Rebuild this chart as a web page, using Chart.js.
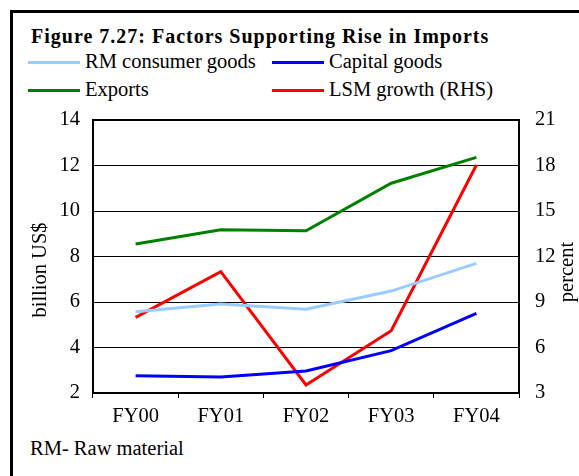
<!DOCTYPE html>
<html>
<head>
<meta charset="utf-8">
<script src="https://cdn.jsdelivr.net/npm/chart.js@4"></script>
<style>
  body { margin: 0; background: #fff; }
  #wrap { position: relative; width: 579px; height: 476px; overflow: hidden; font-family: "Liberation Serif", "Times New Roman", serif; }
  #frame { position: absolute; left: 10px; top: 10px; width: 700px; height: 600px; border-left: 3px solid #000; border-top: 3px solid #000; }
  #title { position: absolute; left: 31px; top: 25px; font-size: 20px; font-weight: bold; letter-spacing: 1px; white-space: nowrap; }
  .leg { position: absolute; font-size: 20.5px; white-space: nowrap; line-height: 1; }
  .leg span.ln { position: absolute; left: 0; width: 52px; height: 3px; }
  .leg span.tx { position: absolute; left: 57px; top: -10px; }
  #note { position: absolute; left: 30px; top: 437px; font-size: 20.5px; white-space: nowrap; }
  canvas { position: absolute; left: 0; top: 0; }
</style>
</head>
<body>
<div id="wrap">
  <div id="frame"></div>
  <div id="title">Figure 7.27: Factors Supporting Rise in Imports</div>
  <div id="legend"></div>
  <div id="note">RM- Raw material</div>
  <canvas id="mycanvas" width="579" height="476"></canvas>
</div>
<script>
var categories = ["FY00", "FY01", "FY02", "FY03", "FY04"];
var rmConsumer = [5.57, 5.91, 5.68, 6.48, 7.70];
var capitalGoods = [2.76, 2.70, 2.97, 3.86, 5.50];
var exportsBn = [8.55, 9.18, 9.13, 11.22, 12.36];
var lsmGrowth = [7.99, 11.0, 3.53, 7.11, 18.03];
var leftTicks = [2, 4, 6, 8, 10, 12, 14];
var rightTicks = [3, 6, 9, 12, 15, 18, 21];

var serif = "'Liberation Serif', 'Times New Roman', serif";

var chartdata = {
  labels: categories,
  datasets: [
    { label: "RM consumer goods", data: rmConsumer, borderColor: "#99ccff", yAxisID: "y" },
    { label: "Capital goods", data: capitalGoods, borderColor: "#0000ff", yAxisID: "y" },
    { label: "Exports", data: exportsBn, borderColor: "#008000", yAxisID: "y" },
    { label: "LSM growth (RHS)", data: lsmGrowth, borderColor: "#ff0000", yAxisID: "y1" }
  ]
};
chartdata.datasets.forEach(function(d){
  d.fill = false;
  d.borderWidth = 3;
  d.pointRadius = 0;
  d.tension = 0;
  d.backgroundColor = d.borderColor;
});

// legend in two aligned columns, like the original
var legendPos = [[28, 61], [272, 61], [28, 89], [272, 89]];
var legendBox = document.getElementById("legend");
chartdata.datasets.forEach(function(d, i){
  var el = document.createElement("div");
  el.className = "leg";
  el.style.left = legendPos[i][0] + "px";
  el.style.top = legendPos[i][1] + "px";
  el.innerHTML = '<span class="ln" style="background:' + d.borderColor + '"></span><span class="tx">' + d.label + '</span>';
  legendBox.appendChild(el);
});

// axis titles, both reading bottom to top
var axisTitles = {
  id: "axisTitles",
  afterDraw: function(chart){
    var ctx = chart.ctx;
    ctx.save();
    ctx.fillStyle = "#000";
    ctx.font = "20.5px " + serif;
    ctx.textAlign = "center";
    ctx.textBaseline = "middle";
    [["billion US$", 41, 270], ["percent", 568, 272]].forEach(function(t){
      ctx.save();
      ctx.translate(t[1], t[2]);
      ctx.rotate(-Math.PI / 2);
      ctx.fillText(t[0], 0, 0);
      ctx.restore();
    });
    ctx.restore();
  }
};

var tickFont = { family: serif, size: 20.5 };

var ctx = document.getElementById("mycanvas");
var LineGraph = new Chart(ctx, {
  type: "line",
  data: chartdata,
  plugins: [axisTitles],
  options: {
    responsive: false,
    animation: false,
    layout: { padding: { top: 120, left: 0, right: 0, bottom: 0 } },
    plugins: { legend: { display: false }, tooltip: { enabled: false } },
    scales: {
      x: {
        offset: true,
        grid: { offset: true, drawOnChartArea: false, drawTicks: true, tickLength: 5, color: "#000", lineWidth: 1 },
        border: { color: "#000", width: 2 },
        ticks: { color: "#000", font: tickFont, padding: 6, maxRotation: 0 },
        afterFit: function(s){ s.height = 83; }
      },
      y: {
        position: "left",
        min: 2, max: 14,
        afterBuildTicks: function(s){ s.ticks = leftTicks.map(function(v){ return { value: v }; }); },
        grid: {
          color: "#000",
          lineWidth: function(c){ return c.tick && c.tick.value === 14 ? 2 : 1; },
          drawTicks: false
        },
        border: { color: "#000", width: 2 },
        ticks: { color: "#000", font: tickFont, padding: 13 },
        afterFit: function(s){ s.width = 93; }
      },
      y1: {
        position: "right",
        min: 3, max: 21,
        afterBuildTicks: function(s){ s.ticks = rightTicks.map(function(v){ return { value: v }; }); },
        grid: { drawOnChartArea: false, drawTicks: false },
        border: { color: "#000", width: 2 },
        ticks: { color: "#000", font: tickFont, padding: 16 },
        afterFit: function(s){ s.width = 60; }
      }
    }
  }
});
</script>
</body>
</html>
